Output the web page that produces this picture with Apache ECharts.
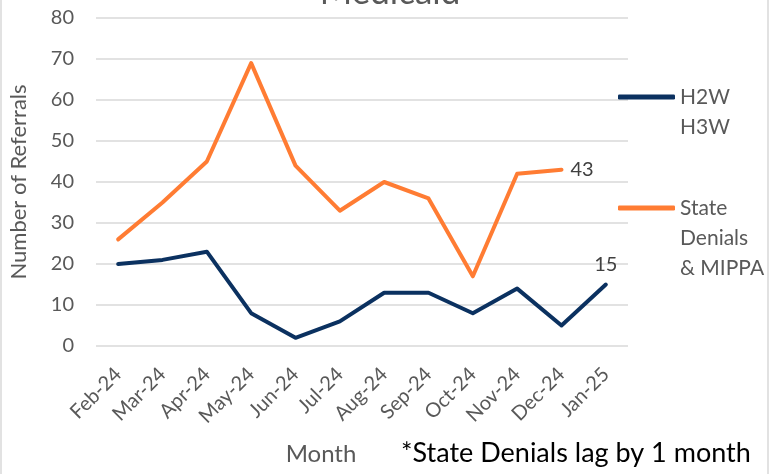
<!DOCTYPE html>
<html>
<head>
<meta charset="utf-8">
<script src="https://cdn.jsdelivr.net/npm/echarts@6/dist/echarts.min.js"></script>
<style>html,body{margin:0;padding:0;background:#fff;}#c{width:780px;height:474px;}</style>
</head>
<body>
<div id="c"></div>
<script>
const months = ['Feb-24','Mar-24','Apr-24','May-24','Jun-24','Jul-24','Aug-24','Sep-24','Oct-24','Nov-24','Dec-24','Jan-25'];
const h2wH3w = [20, 21, 23, 8, 2, 6, 13, 13, 8, 14, 5, 15];
const stateDenials = [26, 35, 45, 69, 44, 33, 40, 36, 17, 42, 43, null];
const yTicks = { min: 0, max: 80, interval: 10 };

const FONT = 'Lato, "Open Sans", sans-serif';
const chart = echarts.init(document.getElementById('c'), null, { renderer: 'canvas' });

function lastIndex(arr){ for (let i = arr.length - 1; i >= 0; i--) if (arr[i] != null) return i; return -1; }

chart.setOption({
  animation: false,
  backgroundColor: '#fff',
  title: [
    { text: 'Medicaid', left: 'center', top: -30, textStyle: { fontFamily: FONT, fontSize: 35, fontWeight: 'normal', color: '#595959' } },
    { text: '*State Denials lag by 1 month', left: 396, top: 435, textStyle: { fontFamily: FONT, fontSize: 27, fontWeight: 'normal', color: '#000' } }
  ],
  grid: { left: 88, right: 152, top: 18, bottom: 128 },
  xAxis: {
    type: 'category',
    data: months,
    boundaryGap: true,
    name: 'Month',
    nameLocation: 'middle',
    nameGap: 96,
    nameTextStyle: { fontFamily: FONT, fontSize: 24, color: '#595959', padding: [0, 82, 0, 0] },
    axisLine: { show: false },
    axisTick: { show: false },
    axisLabel: { rotate: 45, fontFamily: FONT, fontSize: 20, color: '#595959', margin: 25 },
    splitLine: { show: false }
  },
  yAxis: {
    type: 'value',
    min: yTicks.min, max: yTicks.max, interval: yTicks.interval,
    name: 'Number of Referrals',
    nameLocation: 'middle',
    nameRotate: 90,
    nameGap: 66,
    nameTextStyle: { fontFamily: FONT, fontSize: 22, color: '#595959' },
    axisLine: { show: false },
    axisTick: { show: false },
    axisLabel: { fontFamily: FONT, fontSize: 20, color: '#595959', margin: 22 },
    splitLine: { lineStyle: { color: '#d9d9d9', width: 1.5 } }
  },
  legend: [
    {
      data: ['H2W H3W'], orient: 'vertical', left: 618, top: 52, padding: 0,
      itemWidth: 57, itemHeight: 5, icon: 'roundRect',
      formatter: () => ' \nH2W\nH3W',
      textStyle: { fontFamily: FONT, fontSize: 21, color: '#595959', lineHeight: 30 }
    },
    {
      data: ['State Denials & MIPPA'], orient: 'vertical', left: 618, top: 133, padding: 0,
      itemWidth: 57, itemHeight: 5, icon: 'roundRect',
      formatter: () => ' \n \nState\nDenials\n& MIPPA',
      textStyle: { fontFamily: FONT, fontSize: 21, color: '#595959', lineHeight: 30 }
    }
  ],
  series: [
    {
      name: 'H2W H3W', type: 'line', data: h2wH3w, symbol: 'circle', symbolSize: 0, showSymbol: true,
      lineStyle: { color: '#0b3160', width: 4, cap: 'round', join: 'round' },
      itemStyle: { color: '#0b3160' },
      label: {
        show: true, position: 'top', distance: 10,
        fontFamily: FONT, fontSize: 20, color: '#404040',
        formatter: p => p.dataIndex === lastIndex(h2wH3w) ? String(p.value) : ''
      }
    },
    {
      name: 'State Denials & MIPPA', type: 'line', data: stateDenials, symbol: 'circle', symbolSize: 0, showSymbol: true,
      lineStyle: { color: '#ff7c33', width: 4, cap: 'round', join: 'round' },
      itemStyle: { color: '#ff7c33' },
      label: {
        show: true, position: 'right', distance: 9,
        fontFamily: FONT, fontSize: 20, color: '#404040',
        formatter: p => p.dataIndex === lastIndex(stateDenials) ? String(p.value) : ''
      }
    }
  ],
  graphic: [
    { type: 'line', shape: { x1: 1, y1: 0, x2: 1, y2: 474 }, style: { stroke: '#d9d9d9', lineWidth: 1.5 } },
    { type: 'line', shape: { x1: 768, y1: 0, x2: 768, y2: 474 }, style: { stroke: '#d9d9d9', lineWidth: 1.5 } }
  ]
});
</script>
</body>
</html>
